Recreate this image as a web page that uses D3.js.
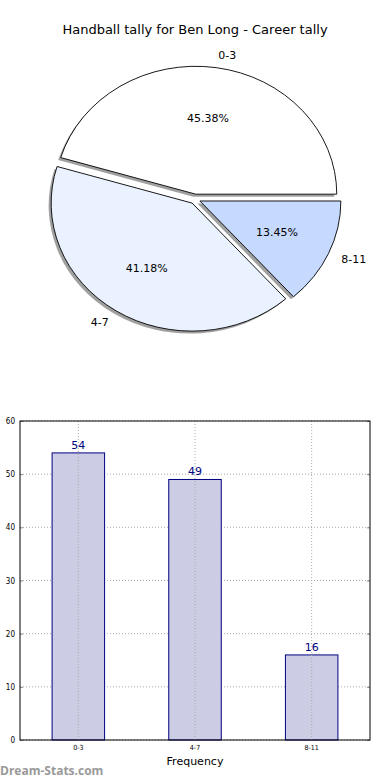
<!DOCTYPE html>
<html>
<head>
<meta charset="utf-8">
<script src="https://cdn.jsdelivr.net/npm/d3@7"></script>
<style>
  body { margin: 0; background: #fff; }
  svg { display: block; font-family: "DejaVu Sans", sans-serif; }
</style>
</head>
<body>
<div id="chart"></div>
<script>
// data
var categories = ["0-3", "4-7", "8-11"];
var counts = [54, 49, 16];
var pieColors = ["#ffffff", "#eaf1ff", "#c6d9ff"];
var yTicks = [0, 10, 20, 30, 40, 50, 60];

var svg = d3.select("#chart").append("svg")
    .attr("width", 390).attr("height", 780);

// title
svg.append("text")
    .attr("x", 195).attr("y", 34)
    .attr("text-anchor", "middle")
    .style("font-size", "13px")
    .text("Handball tally for Ben Long - Career tally");

// pie (elliptical, matplotlib-like: starts at east, counter-clockwise)
var cx = 195, cy = 199, rx = 141, ry = 128, explode = 0.038;
var total = d3.sum(counts);
var pie = d3.pie().sort(null).startAngle(Math.PI / 2).endAngle(Math.PI / 2 - 2 * Math.PI);
var arcs = pie(counts);
var arc = d3.arc().innerRadius(0).outerRadius(1);

var pieG = svg.append("g");

arcs.forEach(function(d, i) {
  var mid = (d.startAngle + d.endAngle) / 2;
  var ox = cx + Math.sin(mid) * explode * rx;
  var oy = cy - Math.cos(mid) * explode * ry;
  // shadow
  pieG.append("path")
      .attr("d", arc(d))
      .attr("transform", "translate(" + (ox - 2.5) + "," + (oy + 2.5) + ") scale(" + rx + "," + ry + ")")
      .attr("fill", "#888")
      .attr("opacity", 0.8);
  d.ox = ox; d.oy = oy; d.mid = mid;
});

arcs.forEach(function(d, i) {
  pieG.append("path")
      .attr("d", arc(d))
      .attr("transform", "translate(" + d.ox + "," + d.oy + ") scale(" + rx + "," + ry + ")")
      .attr("fill", pieColors[i])
      .attr("stroke", "#000")
      .attr("stroke-width", 0.9)
      .attr("vector-effect", "non-scaling-stroke");
});

arcs.forEach(function(d, i) {
  var s = Math.sin(d.mid), c = Math.cos(d.mid);
  // category label at 1.1 radius
  svg.append("text")
      .attr("x", d.ox + 1.1 * rx * s)
      .attr("y", d.oy - 1.1 * ry * c)
      .attr("dy", "0.35em")
      .attr("text-anchor", s > 0 ? "start" : "end")
      .style("font-size", "11px")
      .text(categories[i]);
  // percentage at 0.6 radius
  svg.append("text")
      .attr("x", d.ox + 0.6 * rx * s)
      .attr("y", d.oy - 0.6 * ry * c)
      .attr("dy", "0.35em")
      .attr("text-anchor", "middle")
      .style("font-size", "11px")
      .text((counts[i] / total * 100).toFixed(2) + "%");
});

// bar chart
var pLeft = 20, pRight = 370, pTop = 421, pBottom = 740;
var x = d3.scaleBand().domain(categories).range([pLeft, pRight])
    .paddingInner(0.55).paddingOuter(0.275);
var y = d3.scaleLinear().domain([0, 60]).range([pBottom, pTop]);

var bar = svg.append("g");

// grid
bar.selectAll(".gy").data(yTicks).enter().append("line")
    .attr("x1", pLeft).attr("x2", pRight)
    .attr("y1", function(d) { return y(d); }).attr("y2", function(d) { return y(d); })
    .attr("stroke", "#aaa").attr("stroke-dasharray", "1,2");

bar.selectAll(".bar").data(counts).enter().append("rect")
    .attr("x", function(d, i) { return x(categories[i]); })
    .attr("y", function(d) { return y(d); })
    .attr("width", x.bandwidth())
    .attr("height", function(d) { return y(0) - y(d); })
    .attr("fill", "#ccccE4")
    .attr("stroke", "#000080")
    .attr("stroke-width", 1);

bar.selectAll(".gx").data(categories).enter().append("line")
    .attr("x1", function(d) { return x(d) + x.bandwidth() / 2; })
    .attr("x2", function(d) { return x(d) + x.bandwidth() / 2; })
    .attr("y1", pTop).attr("y2", pBottom)
    .attr("stroke", "#aaa").attr("stroke-dasharray", "1,2");

// value labels
bar.selectAll(".val").data(counts).enter().append("text")
    .attr("x", function(d, i) { return x(categories[i]) + x.bandwidth() / 2; })
    .attr("y", function(d) { return y(d) - 4; })
    .attr("text-anchor", "middle")
    .attr("fill", "#000080")
    .style("font-size", "11px")
    .text(function(d) { return d; });

// axes
var yAxis = d3.axisLeft(y).tickValues(yTicks).tickSize(-3).tickPadding(5);
var yg = bar.append("g").attr("transform", "translate(" + pLeft + ",0)").call(yAxis);
yg.select(".domain").remove();
yg.selectAll("text").style("font-size", "8px").style("font-family", "'Liberation Sans Narrow', 'DejaVu Sans Condensed', sans-serif");
yg.selectAll("line").attr("stroke", "#888");

var yAxisR = d3.axisRight(y).tickValues(yTicks).tickSize(-3).tickFormat("");
var ygr = bar.append("g").attr("transform", "translate(" + pRight + ",0)").call(yAxisR);
ygr.select(".domain").remove();
ygr.selectAll("line").attr("stroke", "#888");

var xAxis = d3.axisBottom(x).tickSize(0).tickPadding(5);
var xg = bar.append("g").attr("transform", "translate(0," + pBottom + ")").call(xAxis);
xg.select(".domain").remove();
xg.selectAll("text").style("font-size", "7px").style("font-family", "'Liberation Sans Narrow', 'DejaVu Sans Condensed', sans-serif");

// frame
bar.append("rect")
    .attr("x", pLeft).attr("y", pTop)
    .attr("width", pRight - pLeft).attr("height", pBottom - pTop)
    .attr("fill", "none").attr("stroke", "#000").attr("stroke-width", 1);

svg.append("text")
    .attr("x", (pLeft + pRight) / 2).attr("y", 765)
    .attr("text-anchor", "middle")
    .style("font-size", "11px")
    .text("Frequency");

svg.append("text")
    .attr("x", 0).attr("y", 775)
    .attr("fill", "#999")
    .style("font-size", "12px")
    .style("font-weight", "bold")
    .style("font-family", "'Open Sans', sans-serif")
    .text("Dream-Stats.com");
</script>
</body>
</html>
